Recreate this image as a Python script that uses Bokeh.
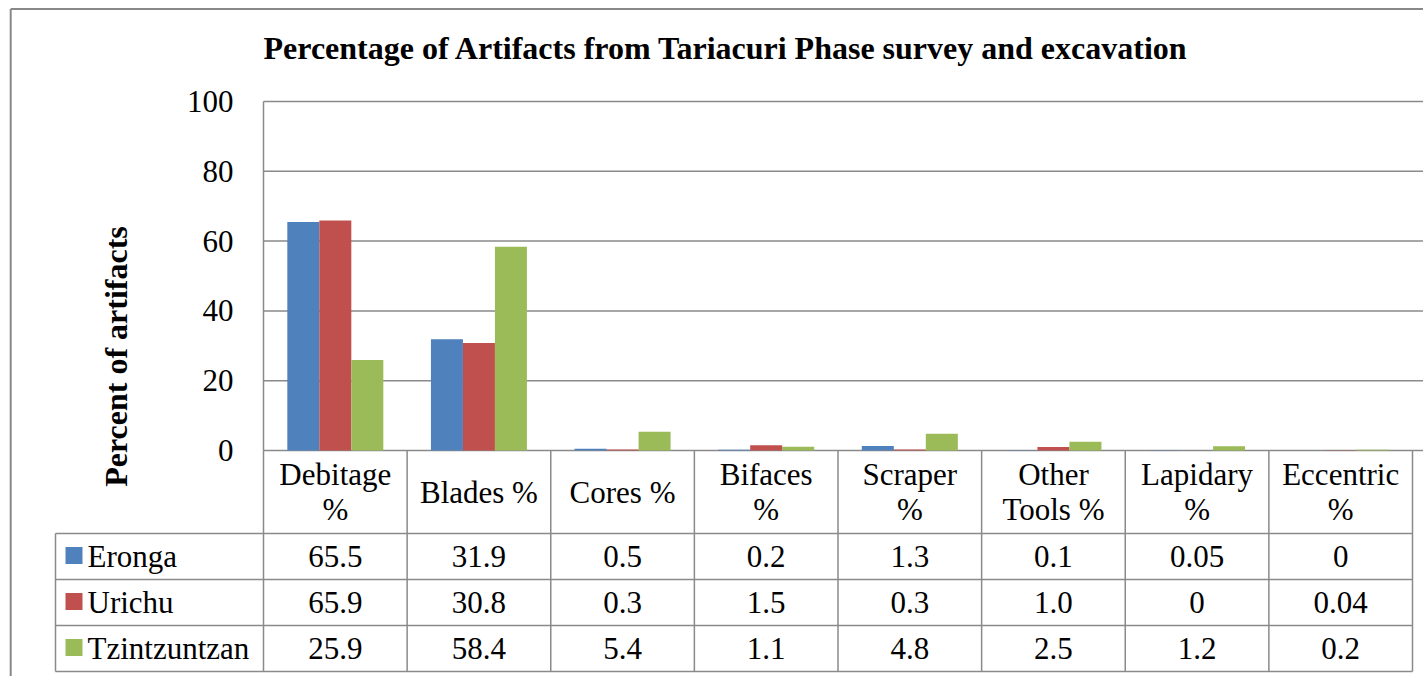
from math import pi
from bokeh.plotting import figure
from bokeh.models import Range1d, FixedTicker, LinearAxis
from bokeh.core.properties import value
from bokeh.embed import file_html
from bokeh.resources import INLINE

# ---------------- data ----------------
title = "Percentage of Artifacts from Tariacuri Phase survey and excavation"
y_label = "Percent of artifacts"
categories = ["Debitage\n%", "Blades %", "Cores %", "Bifaces\n%", "Scraper\n%",
              "Other\nTools %", "Lapidary\n%", "Eccentric\n%"]
series_names = ["Eronga", "Urichu", "Tzintzuntzan"]
eronga = [65.5, 31.9, 0.5, 0.2, 1.3, 0.1, 0.05, 0]
urichu = [65.9, 30.8, 0.3, 1.5, 0.3, 1.0, 0, 0.04]
tzintzuntzan = [25.9, 58.4, 5.4, 1.1, 4.8, 2.5, 1.2, 0.2]
y_ticks = [0, 20, 40, 60, 80, 100]

series = [eronga, urichu, tzintzuntzan]
colors = ["#4F81BD", "#C0504D", "#9BBB59"]

FONT = "Liberation Serif"
GRAY = "#8a8a8a"
FS = "31px"


def fmt(v):
    if v == 0:
        return "0"
    if v < 0.1:
        return "%.2f" % v
    return "%.1f" % v


# ---------------- layout helpers (screen pixels -> data) ----------------
X0, COLW = 263.0, 143.625     # plot-area left, category column width
Y0, K = 450.0, 3.49           # y of value 0, px per percent
W, H = 1423, 676


def px(sx):
    return (sx - X0) / COLW


def py(sy):
    return (Y0 - sy) / K


n = len(categories)
BW = 32.0 / COLW
XR = px(W)

p = figure(width=W, height=H,
           x_range=Range1d(px(0), XR), y_range=Range1d(py(H), py(0)),
           output_backend="svg", toolbar_location=None,
           x_axis_location=None, y_axis_location=None, min_border=0)
p.outline_line_color = None
p.grid.visible = False

# outer chart-area border (left and top visible)
p.segment(x0=[px(10.2), px(10.2)], y0=[py(8.5), py(8.5)],
          x1=[px(10.2), XR], y1=[py(H), py(8.5)],
          line_color="#888888", line_width=2)

# gridlines at the tick values
p.segment(x0=[0] * len(y_ticks), y0=y_ticks, x1=[XR] * len(y_ticks), y1=y_ticks,
          line_color=GRAY, line_width=1.5, level="underlay")

# y axis
ax = LinearAxis(fixed_location=0, ticker=FixedTicker(ticks=y_ticks), bounds=(0, 100))
ax.major_tick_line_color = None
ax.minor_tick_line_color = None
ax.major_tick_out = 0
ax.major_tick_in = 0
ax.major_label_standoff = 30
ax.axis_line_color = GRAY
ax.axis_line_width = 1.5
ax.major_label_text_font = FONT
ax.major_label_text_font_size = FS
ax.major_label_text_color = "black"
p.add_layout(ax, "left")

# bars
for j, (vals, col) in enumerate(zip(series, colors)):
    p.vbar(x=[i + 0.5 + (j - 1) * BW for i in range(n)], top=vals, bottom=0,
           width=BW, fill_color=col, line_color=None)

# title and y-axis label
p.text(x=[0], y=[py(47.5)], text=[title], text_font=value(FONT),
       text_font_style=value("bold"), text_font_size="32px",
       text_align="left", text_baseline="middle", text_color="black")
p.text(x=[px(115)], y=[py(356)], text=[y_label], angle=pi / 2,
       text_font=value(FONT), text_font_style=value("bold"), text_font_size="32px",
       text_align="center", text_baseline="middle", text_color="black")

# ---------------- data table ----------------
HB = 533.0                     # header row bottom
row_lines = [HB, 579.0, 625.0, 671.0]
XL = px(55)

# horizontal table lines
p.segment(x0=[XL] * 4, y0=[py(v) for v in row_lines], x1=[n] * 4,
          y1=[py(v) for v in row_lines], line_color=GRAY, line_width=1.5)
# verticals
p.segment(x0=[XL] + list(range(n + 1)), y0=[py(HB)] + [0] * (n + 1),
          x1=[XL] + list(range(n + 1)), y1=[py(671)] * (n + 2),
          line_color=GRAY, line_width=1.5)

# header labels (one or two lines)
hx, hy, ht = [], [], []
for i, cat in enumerate(categories):
    lines = cat.split("\n")
    mids = [491.5] if len(lines) == 1 else [473.5, 508.5]
    for ln, m in zip(lines, mids):
        hx.append(i + 0.5)
        hy.append(py(m))
        ht.append(ln)
p.text(x=hx, y=hy, text=ht, text_font=value(FONT), text_font_size=FS,
       text_align="center", text_baseline="middle", text_color="black")

# data rows
for r, (name, vals, col) in enumerate(zip(series_names, series, colors)):
    top = row_lines[r]
    p.rect(x=[px(73.5)], y=[py(top + 22)], width=17, height=17,
           width_units="screen", height_units="screen",
           fill_color=col, line_color=None)
    p.text(x=[px(87)], y=[py(top + 23)], text=[name], text_font=value(FONT),
           text_font_size=FS, text_align="left", text_baseline="middle",
           text_color="black")
    p.text(x=[i + 0.5 for i in range(n)], y=[py(top + 23)] * n,
           text=[fmt(v) for v in vals], text_font=value(FONT), text_font_size=FS,
           text_align="center", text_baseline="middle", text_color="black")

open("out.html", "w").write(file_html(p, INLINE))
